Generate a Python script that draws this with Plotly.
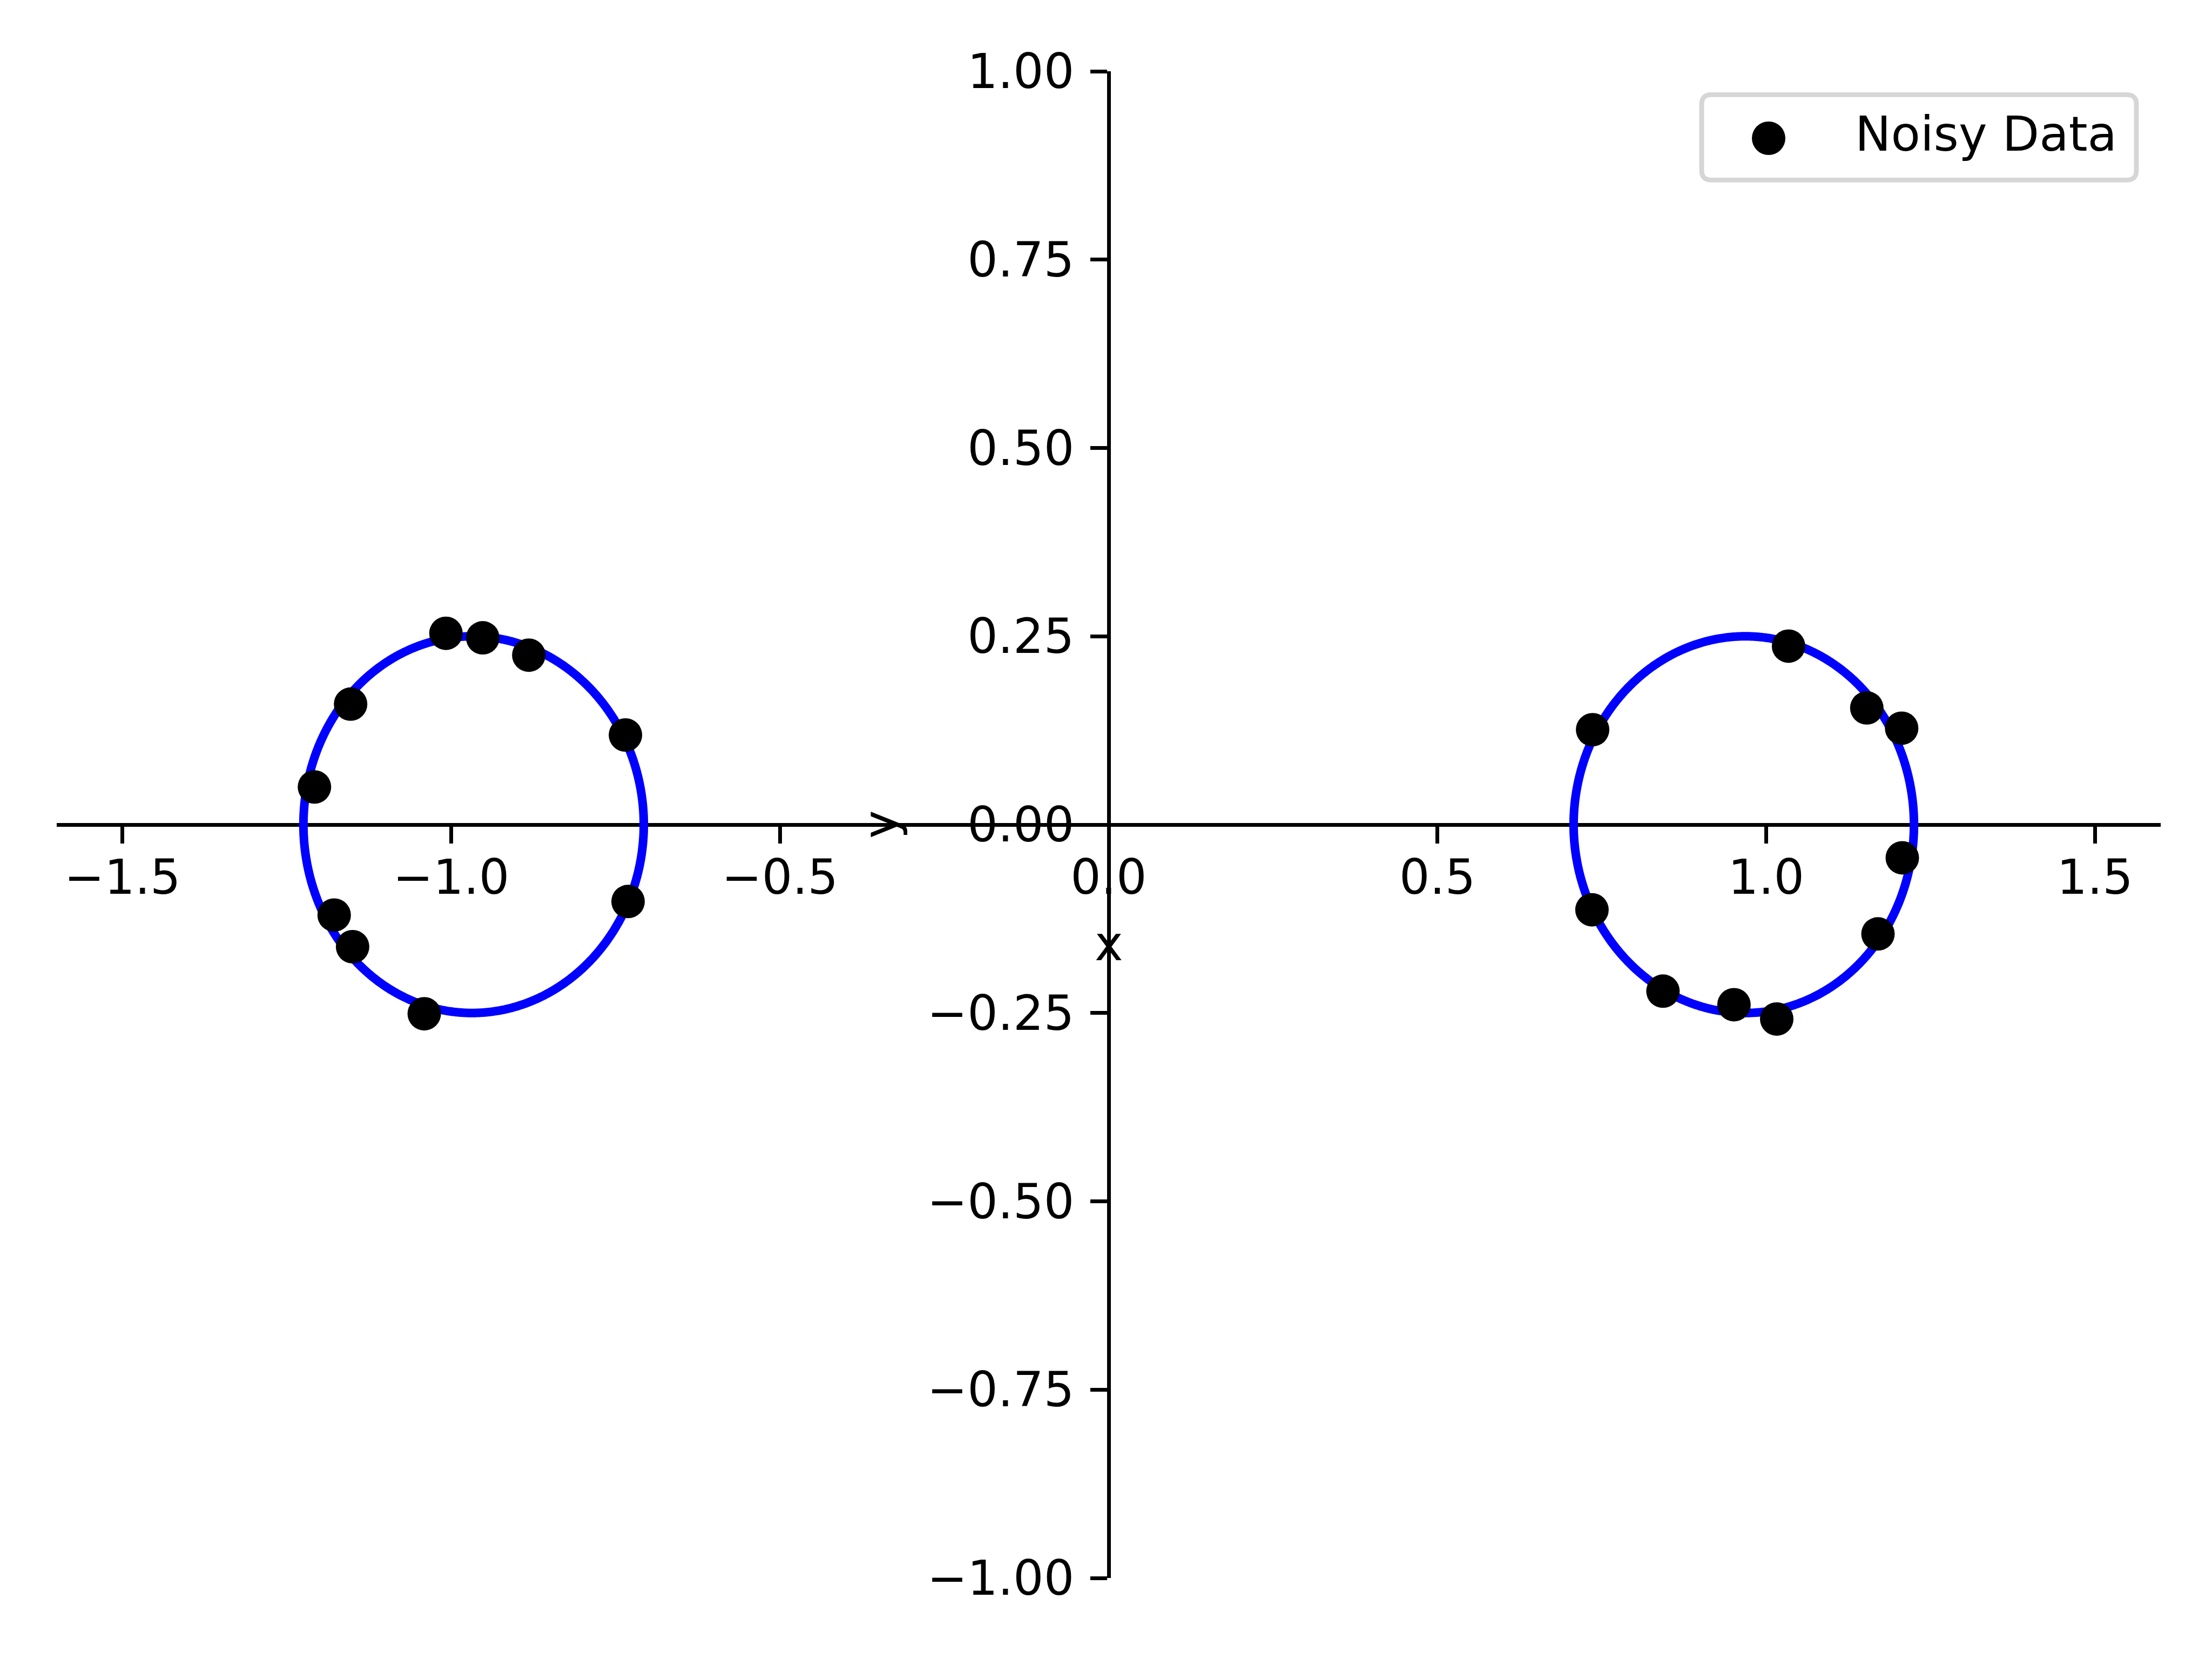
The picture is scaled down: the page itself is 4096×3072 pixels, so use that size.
import numpy as np
import plotly.graph_objects as go

# ---------------- data ----------------
noisy_x = [-1.008, -0.952, -0.882, -1.153, -0.735, -1.208, -0.731, -1.178, -1.150, -1.041,
           1.034, 1.153, 1.206, 0.736, 1.207, 0.735, 1.170, 0.843, 0.951, 1.016]
noisy_y = [0.254, 0.248, 0.225, 0.160, 0.119, 0.050, -0.102, -0.120, -0.162, -0.251,
           0.237, 0.155, 0.128, 0.126, -0.044, -0.113, -0.145, -0.221, -0.239, -0.258]

# fitted implicit curve: Cassini oval (x^2+y^2)^2 - 2a^2(x^2-y^2) + a^4 = b^4
curve_a = 1.0
curve_b2 = 0.5

x_ticks = [-1.5, -1.0, -0.5, 0.0, 0.5, 1.0, 1.5]
y_ticks = [-1.0, -0.75, -0.5, -0.25, 0.0, 0.25, 0.5, 0.75, 1.0]
x_range = [-1.6, 1.6]
y_range = [-1.0, 1.0]
legend_label = "Noisy Data"
x_label = "x"
y_label = "y"

# ---------------- curve from the model ----------------
a2 = curve_a ** 2
b4 = curve_b2 ** 2
x_in = np.sqrt(a2 - curve_b2)
x_out = np.sqrt(a2 + curve_b2)
t = np.linspace(0, np.pi, 600)
xs = (x_in + x_out) / 2 - (x_out - x_in) / 2 * np.cos(t)
ys = np.sqrt(np.clip(np.sqrt(4 * a2 * xs ** 2 + b4) - a2 - xs ** 2, 0, None))
ox = np.concatenate([xs, xs[::-1]])
oy = np.concatenate([ys, -ys[::-1]])
cx = list(ox) + [None] + list(-ox)
cy = list(oy) + [None] + list(oy)

# ---------------- layout geometry ----------------
W, H = 4096, 3072
L, R, T, B = 105, 95, 132, 150
PW, PH = W - L - R, H - T - B
FS = 88.9
FONT = "DejaVu Sans"


def pxx(x):
    return (x - L) / PW


def pxy(y):
    return (H - B - y) / PH


fig = go.Figure()
fig.add_trace(go.Scatter(x=cx, y=cy, mode="lines",
                         line=dict(color="#0000ff", width=16, simplify=False),
                         showlegend=False, hoverinfo="skip"))
fig.add_trace(go.Scatter(x=noisy_x, y=noisy_y, mode="markers", name=legend_label,
                         marker=dict(color="black", size=62, line=dict(width=0)),
                         showlegend=False))

axis_common = dict(showgrid=False, zeroline=False, showline=True, linecolor="black",
                   linewidth=7, ticks="outside", ticklen=31, tickwidth=7, tickcolor="black",
                   tickfont=dict(family=FONT, size=FS, color="black"),
                   anchor="free", position=0.5, layer="below traces")

fig.update_layout(
    width=W, height=H,
    margin=dict(l=L, r=R, t=T, b=B, pad=0, autoexpand=False),
    paper_bgcolor="white", plot_bgcolor="white",
    font=dict(family=FONT, size=FS, color="black"),
    xaxis=dict(range=x_range, tickvals=x_ticks, tickformat=".1f",
               ticklabelstandoff=-14, **axis_common),
    yaxis=dict(range=y_range, tickvals=y_ticks, tickformat=".2f",
               ticklabelstandoff=12, **axis_common),
)

# axis labels (matplotlib-style, next to centred spines)
fig.add_annotation(x=0, y=0, xref="x", yref="y", text=x_label, showarrow=False,
                   xanchor="center", yanchor="middle", yshift=-220,
                   font=dict(family=FONT, size=FS, color="black"))
fig.add_annotation(x=0, y=0, xref="x", yref="y", text=y_label, showarrow=False,
                   textangle=-90, xanchor="center", yanchor="middle", xshift=-423,
                   font=dict(family=FONT, size=FS, color="black"))

# legend box (rounded frame)
lx0, lx1, ly0, ly1, rr = 3151, 3956, 175.4, 333.4, 17.8
pts = [
    ("M", lx0 + rr, ly0), ("L", lx1 - rr, ly0), ("Q", lx1, ly0, lx1, ly0 + rr),
    ("L", lx1, ly1 - rr), ("Q", lx1, ly1, lx1 - rr, ly1), ("L", lx0 + rr, ly1),
    ("Q", lx0, ly1, lx0, ly1 - rr), ("L", lx0, ly0 + rr), ("Q", lx0, ly0, lx0 + rr, ly0),
]
path = ""
for p in pts:
    cmd = p[0]
    coords = p[1:]
    segs = []
    for i in range(0, len(coords), 2):
        segs.append(f"{pxx(coords[i]):.6f},{pxy(coords[i + 1]):.6f}")
    path += cmd + " ".join(segs) + " "
path += "Z"
fig.add_shape(type="path", path=path, xref="paper", yref="paper",
              line=dict(color="#d6d6d6", width=8.9), fillcolor="white", layer="above")
mx, my, mr = 3275, 256, 31
fig.add_shape(type="circle", xref="paper", yref="paper",
              x0=pxx(mx - mr), x1=pxx(mx + mr), y0=pxy(my + mr), y1=pxy(my - mr),
              fillcolor="black", line=dict(width=0), layer="above")
fig.add_annotation(x=pxx(3433), y=pxy(248), xref="paper", yref="paper", text=legend_label,
                   showarrow=False, xanchor="left", yanchor="middle",
                   font=dict(family=FONT, size=FS, color="black"))

fig.write_html("out.html", config={"displayModeBar": False},
               post_script="document.body.style.margin='0';")
